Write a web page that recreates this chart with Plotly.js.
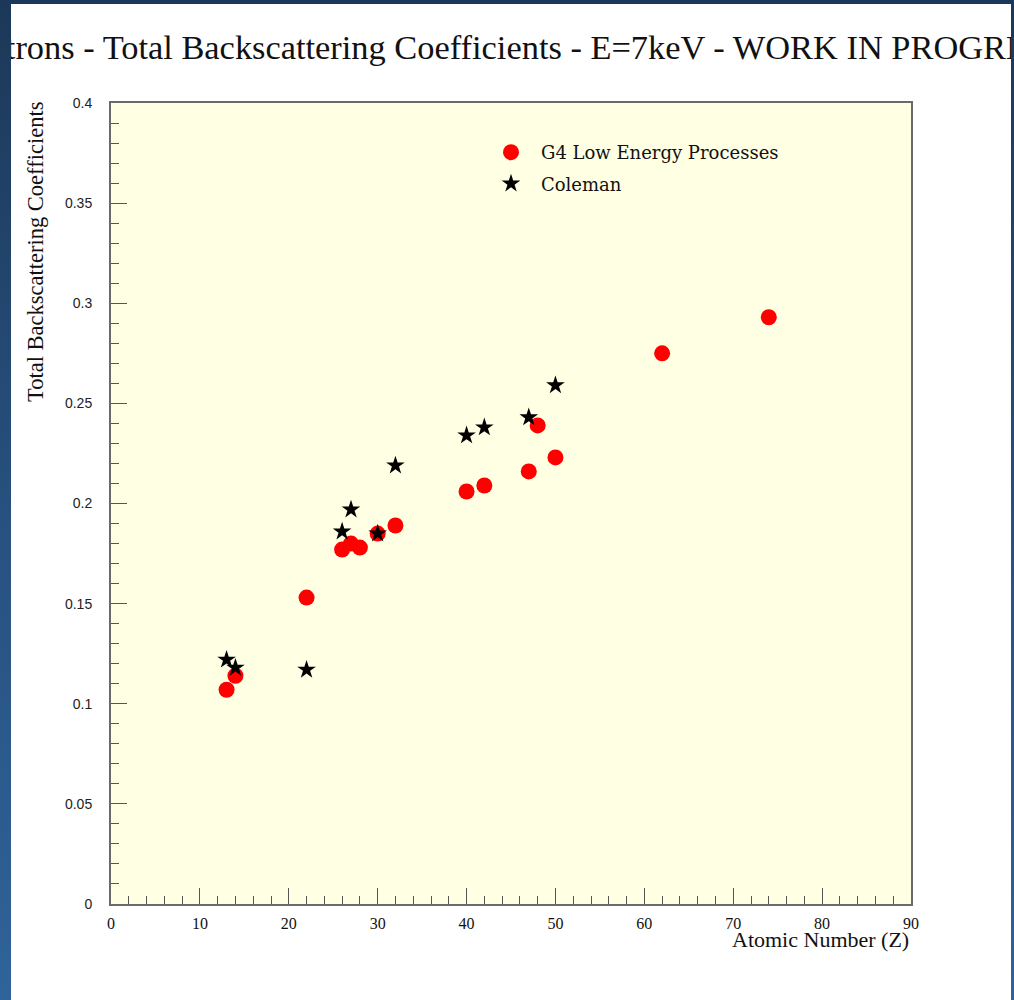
<!DOCTYPE html>
<html>
<head>
<meta charset="utf-8">
<script src="https://cdn.plot.ly/plotly-3.0.1.min.js"></script>
<style>
  html, body { margin: 0; padding: 0; width: 1014px; height: 1000px; overflow: hidden; }
  body { background: linear-gradient(to bottom, #1c3858 0%, #27507e 50%, #2f6399 100%); position: relative; }
  #chart { position: absolute; left: 11px; top: 4px; width: 1000px; height: 996px; background: #ffffff; }
</style>
</head>
<body>
<div id="chart"></div>
<script>
// Data
const g4Z = [13, 14, 22, 26, 27, 28, 30, 32, 40, 42, 47, 48, 50, 62, 74];
const g4Coef = [0.107, 0.114, 0.153, 0.177, 0.180, 0.178, 0.185, 0.189, 0.206, 0.209, 0.216, 0.239, 0.223, 0.275, 0.293];
const colemanZ = [13, 14, 22, 26, 27, 30, 32, 40, 42, 47, 50];
const colemanCoef = [0.122, 0.118, 0.117, 0.186, 0.197, 0.185, 0.219, 0.234, 0.238, 0.243, 0.259];
const seriesNames = ["G4 Low Energy Processes", "Coleman"];
const titleText = "Electrons - Total Backscattering Coefficients - E=7keV - WORK IN PROGRESS";
const xTitleText = "Atomic Number (Z)";
const yTitleText = "Total Backscattering Coefficients";

const serif = "Liberation Serif, Times New Roman, serif";
const wideSerif = "DejaVu Serif, serif";
const sans = "Liberation Sans, Arial, sans-serif";

const traces = [
  {
    x: g4Z, y: g4Coef, type: "scatter", mode: "markers", name: seriesNames[0],
    legendgroup: "a",
    marker: { color: "#ff0000", size: 16, symbol: "circle", line: { width: 0 } },
    cliponaxis: false
  },
  {
    x: colemanZ, y: colemanCoef, type: "scatter", mode: "markers", name: seriesNames[1],
    legendgroup: "b",
    marker: { color: "#000000", size: 14, symbol: "star", line: { width: 0 } },
    cliponaxis: false
  }
];

const layout = {
  width: 1000, height: 996,
  margin: { l: 100, r: 100, t: 99, b: 96 },
  paper_bgcolor: "#ffffff",
  plot_bgcolor: "#ffffe3",
  showlegend: true,
  title: {
    text: titleText,
    font: { family: serif, size: 34.4, color: "#111111" },
    x: 0.494, xref: "container", xanchor: "center",
    y: 1 - 43 / 996, yref: "container", yanchor: "middle"
  },
  xaxis: {
    range: [0, 90],
    dtick: 10, tick0: 0,
    ticks: "inside", ticklen: 16, tickwidth: 1, tickcolor: "#555555",
    minor: { dtick: 2, ticks: "inside", ticklen: 8, tickwidth: 1, tickcolor: "#555555", showgrid: false },
    showgrid: false, zeroline: false,
    showline: true, mirror: true, linecolor: "#6a6a6a", linewidth: 2,
    tickfont: { family: serif, size: 16, color: "#111111" },
    ticklabelstandoff: 4
  },
  yaxis: {
    range: [0, 0.4],
    dtick: 0.05, tick0: 0,
    ticks: "inside", ticklen: 16, tickwidth: 1, tickcolor: "#555555",
    minor: { dtick: 0.01, ticks: "inside", ticklen: 8, tickwidth: 1, tickcolor: "#555555", showgrid: false },
    showgrid: false, zeroline: false,
    showline: true, mirror: true, linecolor: "#6a6a6a", linewidth: 2,
    tickfont: { family: sans, size: 14, color: "#222222" },
    ticklabelstandoff: 14
  },
  legend: {
    x: (481 - 111) / 800, xanchor: "left",
    y: 1 - (134 - 103) / 801, yanchor: "top",
    bgcolor: "rgba(0,0,0,0)", borderwidth: 0,
    itemwidth: 50,
    traceorder: "grouped", tracegroupgap: 5,
    font: { family: wideSerif, size: 18, color: "#111111" }
  },
  annotations: [
    {
      text: xTitleText, xref: "paper", yref: "paper", x: 1, y: 0,
      xanchor: "right", yanchor: "middle", yshift: -35, showarrow: false,
      font: { family: serif, size: 22, color: "#111111" }
    },
    {
      text: yTitleText, xref: "paper", yref: "paper", x: 0, y: 1,
      xanchor: "center", yanchor: "top", xshift: -76, yshift: 3, textangle: -90, showarrow: false,
      font: { family: serif, size: 22.5, color: "#111111" }
    }
  ]
};

Plotly.newPlot("chart", traces, layout, { staticPlot: true, displayModeBar: false });
</script>
</body>
</html>
